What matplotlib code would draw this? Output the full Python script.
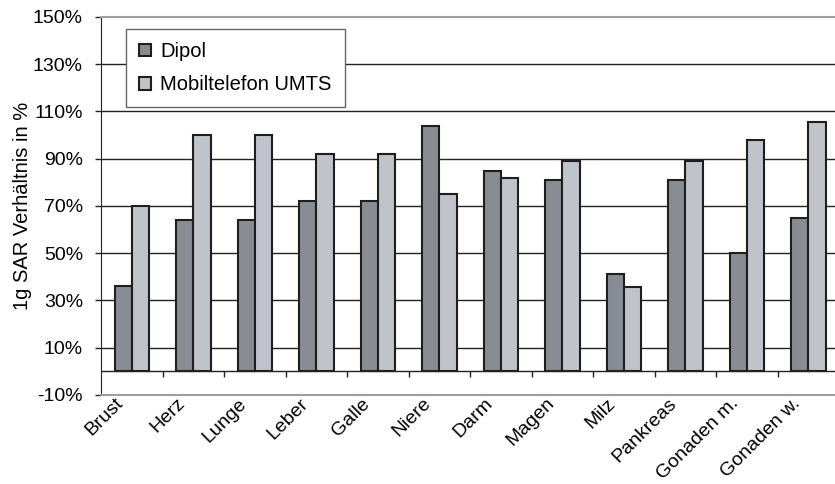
import numpy as np
import matplotlib.pyplot as plt
from matplotlib.transforms import ScaledTranslation

plt.rcParams["font.family"] = ["Liberation Sans", "DejaVu Sans"]

organe = ["Brust", "Herz", "Lunge", "Leber", "Galle", "Niere", "Darm",
          "Magen", "Milz", "Pankreas", "Gonaden m.", "Gonaden w."]
dipol = [36, 64, 64, 72, 72, 104, 85, 81, 41, 81, 50, 65]
umts = [70, 100, 100, 92, 92, 75, 82, 89, 35.5, 89, 98, 105.5]

x = np.arange(len(organe))
w = 0.28

fig = plt.figure(figsize=(8.35, 4.84), dpi=100)
ax = fig.add_axes([0.121, 0.184, 0.884, 0.781])

ax.bar(x - w / 2, dipol, w, color="#878d93", edgecolor="#1e1e1e",
       linewidth=1.5, label="Dipol", zorder=3)
ax.bar(x + w / 2, umts, w, color="#bfc3ca", edgecolor="#1e1e1e",
       linewidth=1.5, label="Mobiltelefon UMTS", zorder=3)

ax.set_xlim(-0.5, len(organe) - 0.5)
ax.set_ylim(-10, 150)
ax.set_yticks(np.arange(-10, 151, 20))
ax.set_yticklabels([f"{v}%" for v in range(-10, 151, 20)], fontsize=14)
for v in range(10, 131, 20):
    ax.axhline(v, color="#222222", linewidth=1.0, zorder=1)

# Nulllinie mit Teilstrichen zwischen den Kategorien
ax.axhline(0, color="#222222", linewidth=1.0, zorder=4)
ax.vlines(x[:-1] + 0.5, -2.6, 0, color="#222222", linewidth=1.0, zorder=4)

ax.set_xticks(x)
ax.set_xticklabels(organe, rotation=45, ha="right", fontsize=14)
ax.tick_params(axis="x", length=0, pad=0)
ax.tick_params(axis="y", length=4, width=1, color="#222222", pad=9)
shift = ScaledTranslation(-5 / 100, 0, fig.dpi_scale_trans)
for lbl in ax.get_xticklabels():
    lbl.set_transform(lbl.get_transform() + shift)

ax.spines["left"].set_color("#222222")
ax.spines["bottom"].set_color("#9a9fa3")
ax.spines["bottom"].set_linewidth(1.5)
ax.spines["top"].set_color("#9a9fa3")
ax.spines["top"].set_linewidth(1.5)
ax.spines["right"].set_visible(False)

ax.set_ylabel("1g SAR Verhältnis in %", fontsize=14.5, labelpad=1)

leg = ax.legend(loc="upper left", bbox_to_anchor=(0.034, 0.968), fontsize=14.5,
                fancybox=False, framealpha=1, edgecolor="#666666",
                handlelength=0.6, handleheight=0.6, handletextpad=0.45,
                borderpad=0.65, labelspacing=0.7, borderaxespad=0)
leg.get_frame().set_linewidth(1.0)
leg.set_zorder(5)

fig.savefig("out.png", dpi=100)
